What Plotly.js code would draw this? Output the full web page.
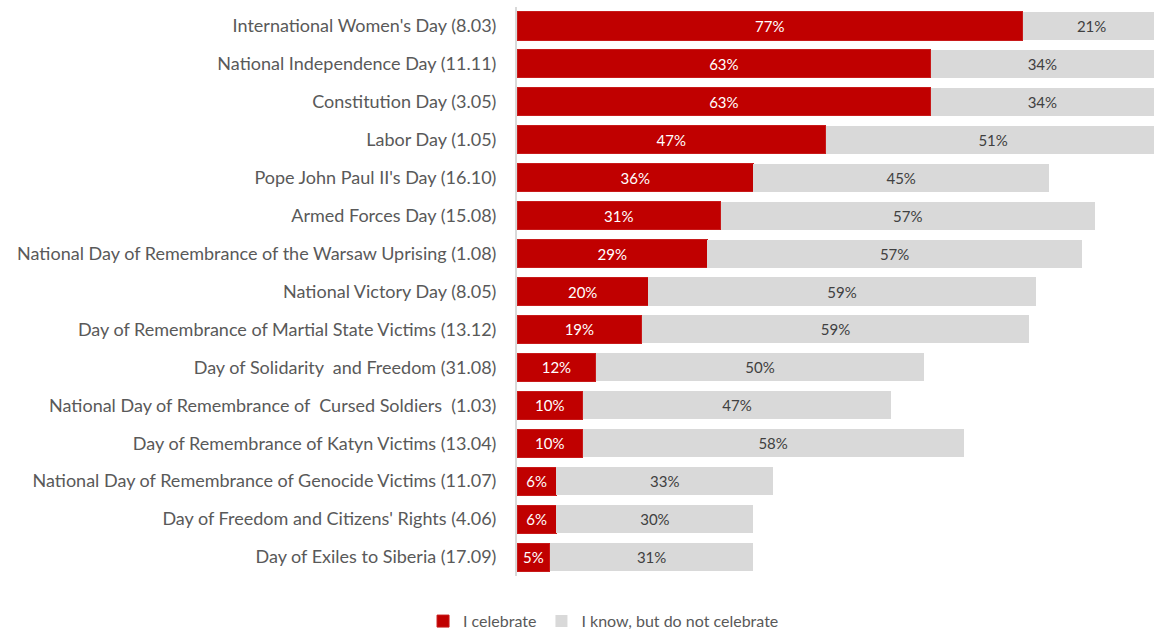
<!DOCTYPE html>
<html>
<head>
<meta charset="utf-8">
<script src="https://cdn.plot.ly/plotly-3.0.1.min.js"></script>
<style>html,body{margin:0;padding:0;background:#fff;}#chart{width:1154px;height:632px;}</style>
</head>
<body>
<div id="chart"></div>
<script>
const categories = [
  "International Women's Day (8.03)",
  "National Independence Day (11.11)",
  "Constitution Day (3.05)",
  "Labor Day (1.05)",
  "Pope John Paul II's Day (16.10)",
  "Armed Forces Day (15.08)",
  "National Day of Remembrance of the Warsaw Uprising (1.08)",
  "National Victory Day (8.05)",
  "Day of Remembrance of Martial State Victims (13.12)",
  "Day of Solidarity  and Freedom (31.08)",
  "National Day of Remembrance of  Cursed Soldiers  (1.03)",
  "Day of Remembrance of Katyn Victims (13.04)",
  "National Day of Remembrance of Genocide Victims (11.07)",
  "Day of Freedom and Citizens' Rights (4.06)",
  "Day of Exiles to Siberia (17.09)"
];
const celebrate = [77, 63, 63, 47, 36, 31, 29, 20, 19, 12, 10, 10, 6, 6, 5];
const knowNotCelebrate = [21, 34, 34, 51, 45, 57, 57, 59, 59, 50, 47, 58, 33, 30, 31];
const seriesNames = ["I celebrate", "I know, but do not celebrate"];

const FONT = "Lato, 'Open Sans', sans-serif";
const traces = [
  {
    type: 'bar', orientation: 'h', name: seriesNames[0],
    y: categories, x: celebrate,
    text: celebrate.map(v => v + '%'),
    textposition: 'inside', insidetextanchor: 'middle', constraintext: 'none',
    textfont: {family: FONT, size: 15, color: '#ffffff'},
    marker: {color: '#c00000', line: {color: '#c81a1a', width: 1}},
    hoverinfo: 'none'
  },
  {
    type: 'bar', orientation: 'h', name: seriesNames[1],
    y: categories, x: knowNotCelebrate,
    text: knowNotCelebrate.map(v => v + '%'),
    textposition: 'inside', insidetextanchor: 'middle', constraintext: 'none',
    textfont: {family: FONT, size: 15, color: '#404040'},
    marker: {color: '#d9d9d9'},
    hoverinfo: 'none'
  }
];
const layout = {
  width: 1154, height: 632,
  barmode: 'stack', bargap: 0.26,
  margin: {l: 517, r: 0, t: 7, b: 56},
  paper_bgcolor: '#ffffff', plot_bgcolor: '#ffffff',
  font: {family: FONT, color: '#595959'},
  xaxis: {range: [0, 97], visible: false, fixedrange: true},
  yaxis: {
    autorange: 'reversed', showline: true, linecolor: '#d9d9d9', linewidth: 2,
    showgrid: false, ticks: '', ticklabelstandoff: 15,
    tickfont: {family: FONT, size: 18, color: '#595959'}
  },
  showlegend: true,
  legend: {
    orientation: 'h', xref: 'container', yref: 'container',
    x: 0.523, xanchor: 'center', y: 0.044, yanchor: 'top',
    font: {family: FONT, size: 16, color: '#595959'},
    traceorder: 'normal', itemwidth: 30
  }
};
Plotly.newPlot('chart', traces, layout, {displayModeBar: false, staticPlot: true});
</script>
</body>
</html>
